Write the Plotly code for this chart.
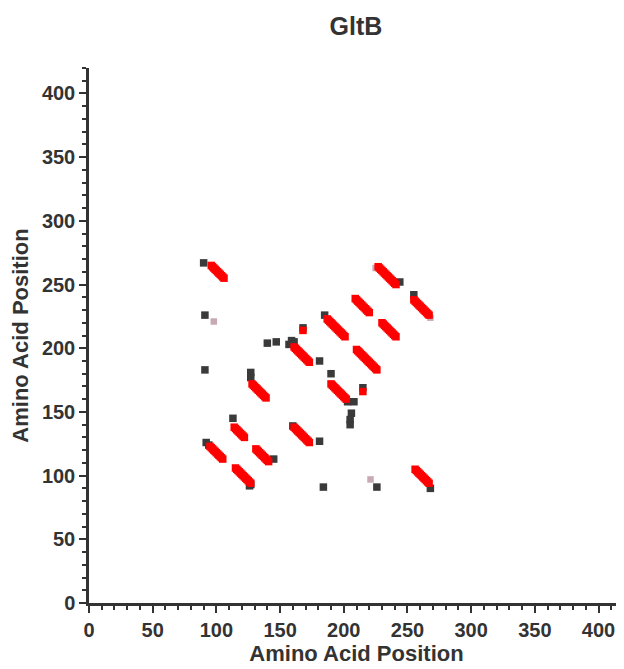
import plotly.graph_objects as go

# Red contacts (x, y)
red_x = [96, 97, 98, 99, 100, 101, 102, 103, 104, 105, 106,
         227, 228, 229, 230, 231, 232, 233, 234, 235, 236, 237, 238, 239, 240, 241,
         255, 256, 257, 258, 259, 260, 261, 262, 263, 264, 265, 266, 267,
         209, 210, 211, 212, 213, 214, 215, 216, 217, 218, 219, 220,
         230, 231, 232, 233, 234, 235, 236, 237, 238, 239, 240, 241,
         187, 188, 189, 190, 191, 192, 193, 194, 195, 196, 197, 198, 199, 200, 201,
         210, 211, 212, 213, 214, 215, 216, 217, 218, 219, 220, 221, 222, 223, 224, 225, 226,
         161, 162, 163, 164, 165, 166, 167, 168, 169, 170, 171, 172, 173,
         128, 129, 130, 131, 132, 133, 134, 135, 136, 137, 138, 139,
         190, 191, 192, 193, 194, 195, 196, 197, 198, 199, 200, 201, 202,
         114, 115, 116, 117, 118, 119, 120, 121, 122,
         161, 162, 163, 164, 165, 166, 167, 168, 169, 170, 171, 172, 173,
         95, 96, 97, 98, 99, 100, 101, 102, 103, 104, 105,
         131, 132, 133, 134, 135, 136, 137, 138, 139, 140, 141,
         115, 116, 117, 118, 119, 120, 121, 122, 123, 124, 125, 126, 127,
         256, 257, 258, 259, 260, 261, 262, 263, 264, 265, 266, 267,
         168, 215]
red_y = [265, 264, 263, 262, 261, 260, 259, 258, 257, 256, 255,
         264, 263, 262, 261, 260, 259, 258, 257, 256, 255, 254, 253, 252, 251, 250,
         238, 237, 236, 235, 234, 233, 232, 231, 230, 229, 228, 227, 226,
         239, 238, 237, 236, 235, 234, 233, 232, 231, 230, 229, 228,
         220, 219, 218, 217, 216, 215, 214, 213, 212, 211, 210, 209,
         223, 222, 221, 220, 219, 218, 217, 216, 215, 214, 213, 212, 211, 210, 209,
         199, 198, 197, 196, 195, 194, 193, 192, 191, 190, 189, 188, 187, 186, 185, 184, 183,
         201, 200, 199, 198, 197, 196, 195, 194, 193, 192, 191, 190, 189,
         172, 171, 170, 169, 168, 167, 166, 165, 164, 163, 162, 161,
         172, 171, 170, 169, 168, 167, 166, 165, 164, 163, 162, 161, 160,
         138, 137, 136, 135, 134, 133, 132, 131, 130,
         138, 137, 136, 135, 134, 133, 132, 131, 130, 129, 128, 127, 126,
         123, 122, 121, 120, 119, 118, 117, 116, 115, 114, 113,
         121, 120, 119, 118, 117, 116, 115, 114, 113, 112, 111,
         106, 105, 104, 103, 102, 101, 100, 99, 98, 97, 96, 95, 94,
         105, 104, 103, 102, 101, 100, 99, 98, 97, 96, 95, 94,
         214, 166]

# Dark grey contacts
grey_x = [90, 91, 91, 127, 127, 140, 147, 157, 159, 161, 181, 185, 168, 190,
          203, 208, 206, 205, 205, 215, 113, 92, 94, 145, 127, 126, 181, 184,
          226, 268, 244, 255, 160]
grey_y = [267, 226, 183, 181, 177, 204, 205, 203, 206, 205, 190, 226, 216, 180,
          158, 158, 149, 144, 140, 169, 145, 126, 124, 113, 93, 92, 127, 91,
          91, 90, 252, 242, 139]

# Light (pinkish grey) contacts
pink_x = [98, 221, 225, 268]
pink_y = [221, 97, 263, 224]

title_text = "GltB"
axis_title = "Amino Acid Position"

dark = "#333333"
font_family = "Liberation Sans, Arial, sans-serif"

fig = go.Figure()
fig.add_trace(go.Scatter(x=grey_x, y=grey_y, mode="markers",
                         marker=dict(symbol="square", size=7.5, color="#3a3a3a",
                                     line=dict(width=0)),
                         showlegend=False, hoverinfo="x+y"))
fig.add_trace(go.Scatter(x=pink_x, y=pink_y, mode="markers",
                         marker=dict(symbol="square", size=6.5, color="#c8aab2",
                                     line=dict(width=0)),
                         showlegend=False, hoverinfo="x+y"))
fig.add_trace(go.Scatter(x=red_x, y=red_y, mode="markers",
                         marker=dict(symbol="square", size=7.5, color="#ff0000",
                                     line=dict(width=0)),
                         showlegend=False, hoverinfo="x+y"))

axis_common = dict(
    range=[0, 420], showgrid=False, zeroline=False, automargin=False,
    showline=True, linecolor=dark, linewidth=2.5,
    ticks="outside", ticklen=7, tickwidth=2, tickcolor=dark,
    tick0=0, dtick=50,
    minor=dict(ticks="outside", ticklen=4, tickwidth=1.5, tickcolor=dark, dtick=10),
    tickfont=dict(family=font_family, size=20, color=dark, weight="bold"),
    title=dict(text=axis_title,
               font=dict(family=font_family, size=22, color=dark, weight="bold")),
)

fig.update_xaxes(**axis_common)
fig.update_yaxes(**axis_common)
fig.update_xaxes(title_standoff=4)
fig.update_yaxes(title_standoff=10)

# page body adds an 8px offset, so the figure is sized to fit the window
fig.update_layout(
    width=616, height=661,
    margin=dict(l=81, r=0, t=60, b=66),
    paper_bgcolor="white", plot_bgcolor="white",
    title=dict(text=title_text, x=348 / 616, xanchor="center", y=1 - 18 / 661,
               yanchor="middle",
               font=dict(family=font_family, size=25, color=dark, weight="bold")),
)

fig.write_html("out.html")
